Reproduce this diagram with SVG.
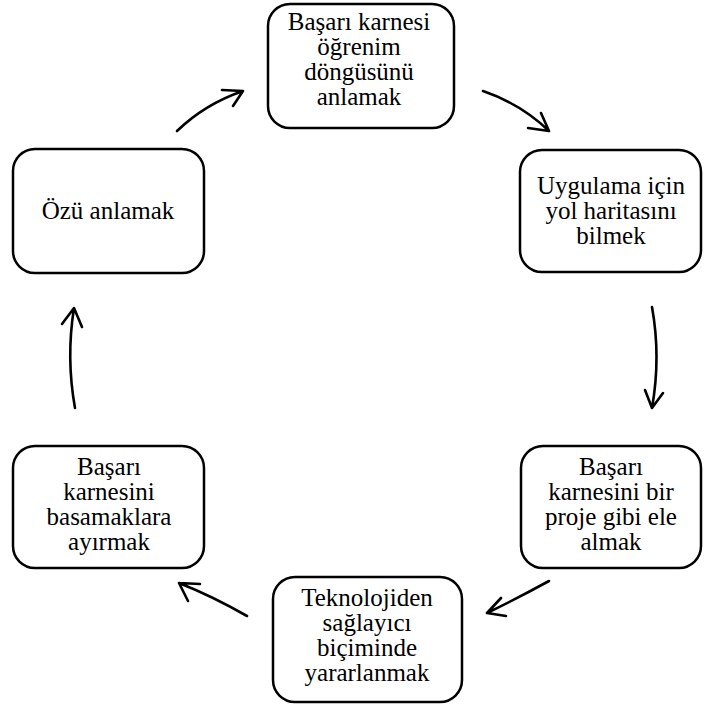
<svg xmlns="http://www.w3.org/2000/svg" width="707" height="707" viewBox="0 0 707 707">
  <style>
    .box { fill: #ffffff; stroke: #000000; stroke-width: 2.5; }
    .lbl { font-family: "Liberation Serif", "Times New Roman", serif; font-size: 25px; fill: #000000; text-anchor: middle; }
    .arrow { fill: none; stroke: #000000; stroke-width: 2.6; stroke-linecap: round; stroke-linejoin: round; }
  </style>
  <rect width="707" height="707" fill="#ffffff"/>

  <!-- cycle connectors: curved shaft plus open chevron head -->
  <g id="connectors">
    <path class="arrow" d="M177,131 Q205,104 243,91 M222,90 L243,91 L233,106"/>
    <path class="arrow" d="M483,91 Q521,104 549,131 M541,113 L549,131 L528,128"/>
    <path class="arrow" d="M652,307 Q661,357 652,408 M645,390 L652,408 L663,393"/>
    <path class="arrow" d="M549,581 Q518,598 487,613 M501,598 L487,613 L506,616"/>
    <path class="arrow" d="M247,616 Q212,596 179,583 M200,584 L179,583 L188,601"/>
    <path class="arrow" d="M75,408 Q66,358 74,308 M62,324 L74,308 L82,327"/>
  </g>

  <g id="node-top">
    <rect class="box" x="268" y="4" width="186" height="124" rx="22"/>
    <text class="lbl" x="359" y="30">Başarı karnesi</text>
    <text class="lbl" x="359" y="55">öğrenim</text>
    <text class="lbl" x="359" y="80">döngüsünü</text>
    <text class="lbl" x="359" y="105">anlamak</text>
  </g>

  <g id="node-right-top">
    <rect class="box" x="520" y="150" width="181" height="122" rx="22"/>
    <text class="lbl" x="611" y="194">Uygulama için</text>
    <text class="lbl" x="611" y="219">yol haritasını</text>
    <text class="lbl" x="611" y="244">bilmek</text>
  </g>

  <g id="node-right-bottom">
    <rect class="box" x="521" y="446" width="180" height="122" rx="22"/>
    <text class="lbl" x="611" y="475">Başarı</text>
    <text class="lbl" x="611" y="500">karnesini bir</text>
    <text class="lbl" x="611" y="525">proje gibi ele</text>
    <text class="lbl" x="611" y="550">almak</text>
  </g>

  <g id="node-bottom">
    <rect class="box" x="273" y="577" width="189" height="125" rx="22"/>
    <text class="lbl" x="367" y="606">Teknolojiden</text>
    <text class="lbl" x="367" y="631">sağlayıcı</text>
    <text class="lbl" x="367" y="656">biçiminde</text>
    <text class="lbl" x="367" y="681">yararlanmak</text>
  </g>

  <g id="node-left-bottom">
    <rect class="box" x="13" y="446" width="191" height="122" rx="22"/>
    <text class="lbl" x="109" y="475">Başarı</text>
    <text class="lbl" x="109" y="500">karnesini</text>
    <text class="lbl" x="109" y="525">basamaklara</text>
    <text class="lbl" x="109" y="550">ayırmak</text>
  </g>

  <g id="node-left-top">
    <rect class="box" x="13" y="149" width="191" height="124" rx="22"/>
    <text class="lbl" x="108" y="219">Özü anlamak</text>
  </g>
</svg>
